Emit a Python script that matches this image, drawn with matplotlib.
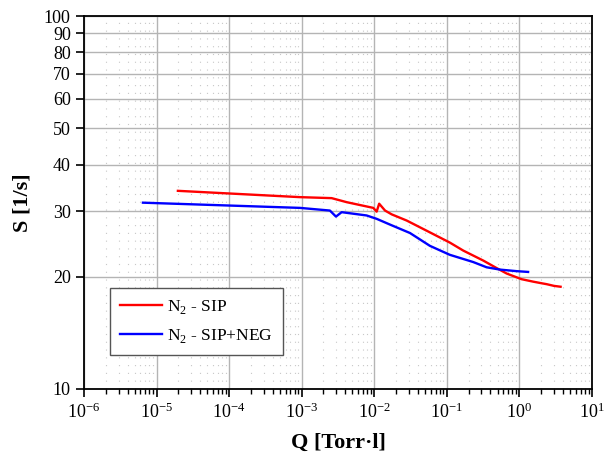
import numpy as np
import matplotlib
matplotlib.use("Agg")
import matplotlib.pyplot as plt
from matplotlib.ticker import LogLocator, FixedLocator, FixedFormatter, NullFormatter, NullLocator

# data
q_sip = [1.97e-5, 9.46e-4, 2.59e-3, 4.17e-3, 9.7e-3, 1.08e-2, 1.17e-2, 1.41e-2, 1.74e-2,
         2.80e-2, 5.86e-2, 0.110, 0.169, 0.318, 0.486, 0.668, 1.07, 1.55, 2.05, 2.38, 3.0, 3.7]
s_sip = [34.0, 32.7, 32.5, 31.7, 30.6, 29.9, 31.4, 30.1, 29.4,
         28.3, 26.3, 24.7, 23.5, 22.1, 21.1, 20.4, 19.7, 19.4, 19.2, 19.1, 18.9, 18.8]

q_neg = [6.5e-6, 9.46e-4, 2.45e-3, 2.97e-3, 3.56e-3, 7.86e-3, 1.08e-2, 1.65e-2, 3.11e-2,
         5.86e-2, 0.110, 0.231, 0.354, 0.540, 0.917, 1.32]
s_neg = [31.6, 30.6, 30.1, 29.0, 29.8, 29.2, 28.6, 27.6, 26.2,
         24.2, 22.9, 21.9, 21.2, 20.9, 20.7, 20.6]

y_ticks = [10, 20, 30, 40, 50, 60, 70, 80, 90, 100]

plt.rcParams['font.family'] = ['Liberation Serif', 'DejaVu Serif']
plt.rcParams['mathtext.fontset'] = 'custom'
plt.rcParams['mathtext.rm'] = 'Liberation Serif'

fig = plt.figure(figsize=(6.04, 4.63), dpi=100)
ax = fig.add_axes([0.139, 0.160, 0.841, 0.805])

ax.plot(q_sip, s_sip, color='#ff0000', lw=1.7, label='N$_2$ - SIP')
ax.plot(q_neg, s_neg, color='#0000ff', lw=1.7, label='N$_2$ - SIP+NEG')

ax.set_xscale('log')
ax.set_yscale('log')
ax.set_xlim(1e-6, 10)
ax.set_ylim(10, 100)

ax.xaxis.set_major_locator(LogLocator(base=10, numticks=10))
ax.xaxis.set_minor_locator(LogLocator(base=10, subs=np.arange(2, 10), numticks=20))
ax.xaxis.set_minor_formatter(NullFormatter())

ax.yaxis.set_major_locator(FixedLocator(y_ticks))
ax.yaxis.set_major_formatter(FixedFormatter([str(v) for v in y_ticks]))
ax.yaxis.set_minor_locator(NullLocator())

ax.grid(True, which='major', color='#b4b4b4', lw=1, ls='-')
ax.grid(True, which='minor', axis='x', color='#c8c8c8', lw=0.8, ls=(0, (1, 6)))

ax.tick_params(which='major', direction='out', length=6, width=1.2, labelsize=13,
               top=False, right=False)
ax.tick_params(which='minor', direction='out', length=3.5, width=1, top=False, right=False)
for sp in ax.spines.values():
    sp.set_linewidth(1.3)

ax.set_xlabel('Q [Torr·l]', fontsize=16, fontweight='bold', labelpad=8)
ax.set_ylabel('S [1/s]', fontsize=16, fontweight='bold', labelpad=8)

leg = ax.legend(loc='lower left', bbox_to_anchor=(0.051, 0.091), borderaxespad=0,
                fontsize=12.5, fancybox=False, edgecolor='#555555', framealpha=1,
                handlelength=2.4, handletextpad=0.3, borderpad=0.6, labelspacing=0.6)
leg.get_frame().set_linewidth(1)

fig.savefig('out.png', dpi=100)
